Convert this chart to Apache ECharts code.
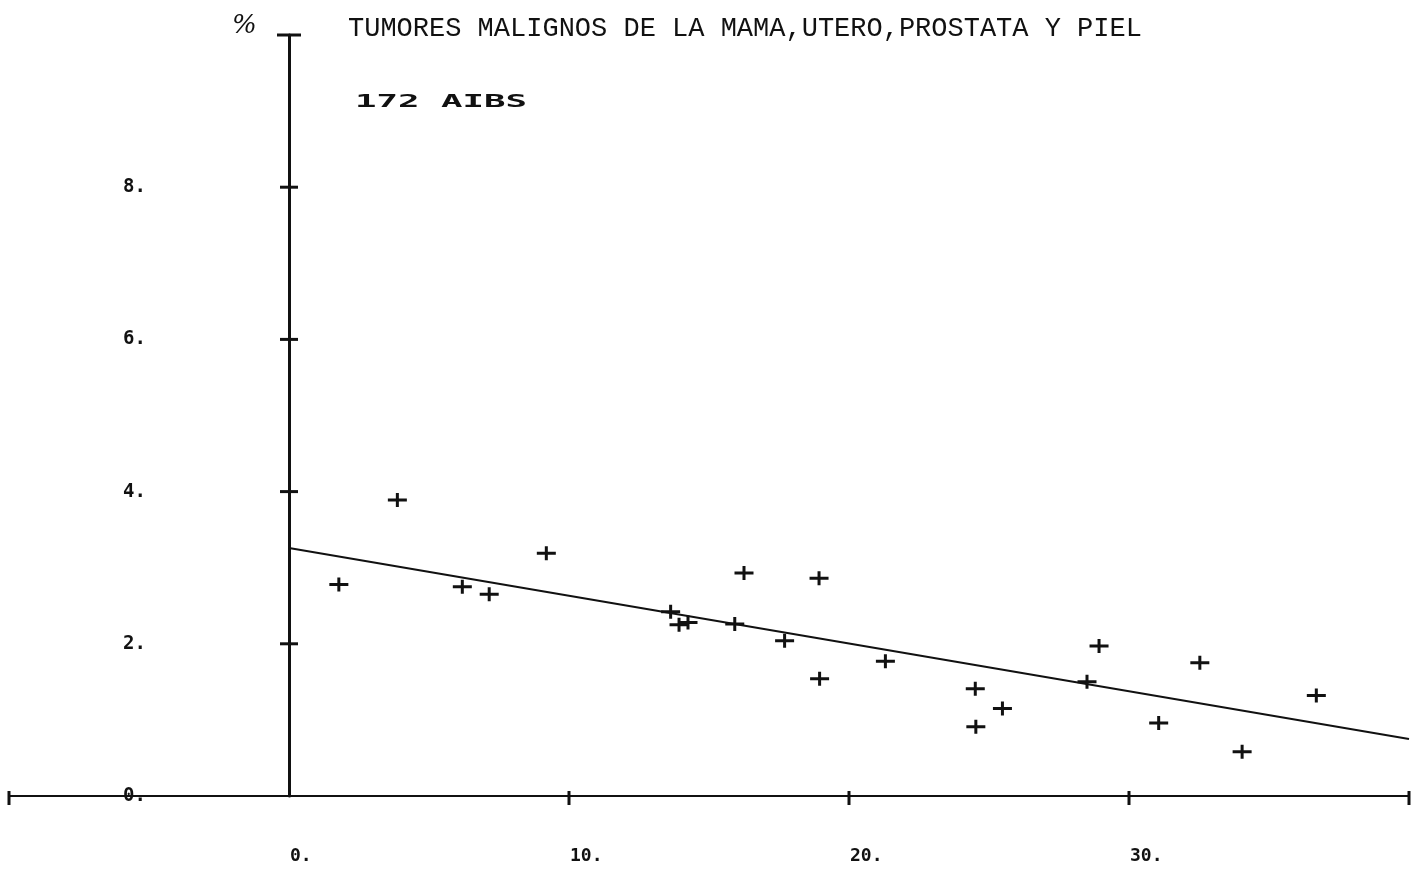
<!DOCTYPE html>
<html>
<head>
<meta charset="utf-8">
<script src="https://cdn.jsdelivr.net/npm/echarts@6/dist/echarts.min.js"></script>
<style>
html,body{margin:0;padding:0;background:#fff;}
#chart{width:1423px;height:879px;}
</style>
</head>
<body>
<div id="chart"></div>
<script>
// ---- data ----
var titleText = 'TUMORES MALIGNOS DE LA MAMA,UTERO,PROSTATA Y PIEL';
var subText = '172 AIBS';
var yUnit = '%';
var xTickValues = [-10, 10, 20, 30, 40];
var yTickValues = [2, 4, 6, 8];
var yTopCap = [10];
var xLabelValues = [0, 10, 20, 30];
var yLabelValues = [0, 2, 4, 6, 8];
var pointsX = [1.78, 3.87, 6.19, 7.15, 9.19, 13.63, 13.93, 14.25, 15.92, 16.25, 17.70, 18.93, 18.95, 21.30, 24.51, 24.53, 25.48, 28.50, 28.93, 31.06, 32.53, 34.04, 36.69];
var pointsY = [2.78, 3.89, 2.75, 2.65, 3.19, 2.42, 2.25, 2.28, 2.26, 2.93, 2.04, 2.86, 1.54, 1.77, 1.41, 0.91, 1.15, 1.50, 1.97, 0.96, 1.75, 0.58, 1.32];
var fitX = [0, 40];
var fitY = [3.26, 0.75];

var points = pointsX.map(function (x, i) { return [x, pointsY[i]]; });
var fit = fitX.map(function (x, i) { return [x, fitY[i]]; });

var ink = '#111';
var crossPath = 'path://M0,5.5 L19,5.5 L19,8.5 L0,8.5 Z M8,0 L11,0 L11,14 L8,14 Z';

var chart = echarts.init(document.getElementById('chart'));
chart.setOption({
  backgroundColor: '#ffffff',
  animation: false,
  grid: { left: 9, right: 14, top: 35, bottom: 83, containLabel: false, outerBoundsMode: 'none' },
  title: [
    { text: titleText, left: 343, top: 10,
      textStyle: { fontFamily: 'Liberation Mono', fontSize: 27, fontWeight: 'normal', color: ink } },
    { text: yUnit, left: 227, top: 8,
      textStyle: { fontFamily: 'DejaVu Serif', fontSize: 26, fontStyle: 'italic', fontWeight: 'normal', color: ink } }
  ],
  graphic: [
    { type: 'text', left: 355, top: 94, scaleX: 2.1, scaleY: 1,
      style: { text: subText, font: 'bold 17px "DejaVu Sans Mono"', fill: ink } }
  ],
  xAxis: {
    type: 'value', min: -10, max: 40, interval: 10,
    axisLine: { show: true, lineStyle: { color: ink, width: 2 } },
    axisTick: { show: false },
    splitLine: { show: false },
    axisLabel: {
      margin: 51, align: 'left', padding: [0, 0, 0, 1],
      fontFamily: 'DejaVu Sans Mono', fontWeight: 'bold', fontSize: 18, color: ink,
      formatter: function (v) { return xLabelValues.indexOf(v) >= 0 ? v + '.' : ''; }
    }
  },
  yAxis: {
    type: 'value', min: 0, max: 10, interval: 2,
    axisLine: { show: true, onZero: true, lineStyle: { color: ink, width: 3 } },
    axisTick: { show: false },
    splitLine: { show: false },
    axisLabel: {
      margin: -137, align: 'right',
      fontFamily: 'DejaVu Sans Mono', fontWeight: 'bold', fontSize: 19, color: ink,
      formatter: function (v) { return yLabelValues.indexOf(v) >= 0 ? v + '.' : ''; }
    }
  },
  series: [
    { type: 'line', data: fit, symbol: 'none', silent: true,
      lineStyle: { color: ink, width: 2 } },
    { type: 'scatter', data: points, symbol: crossPath, symbolSize: [19, 14],
      itemStyle: { color: ink, opacity: 1 } },
    { type: 'scatter', data: xTickValues.map(function (v) { return [v, 0]; }),
      symbol: 'rect', symbolSize: [3, 14], symbolOffset: [0, 2], itemStyle: { color: ink, opacity: 1 }, silent: true },
    { type: 'scatter', data: yTickValues.map(function (v) { return [0, v]; }),
      symbol: 'rect', symbolSize: [18, 3], itemStyle: { color: ink, opacity: 1 }, silent: true },
    { type: 'scatter', data: yTopCap.map(function (v) { return [0, v]; }),
      symbol: 'rect', symbolSize: [24, 3], itemStyle: { color: ink, opacity: 1 }, silent: true }
  ]
});
</script>
</body>
</html>
